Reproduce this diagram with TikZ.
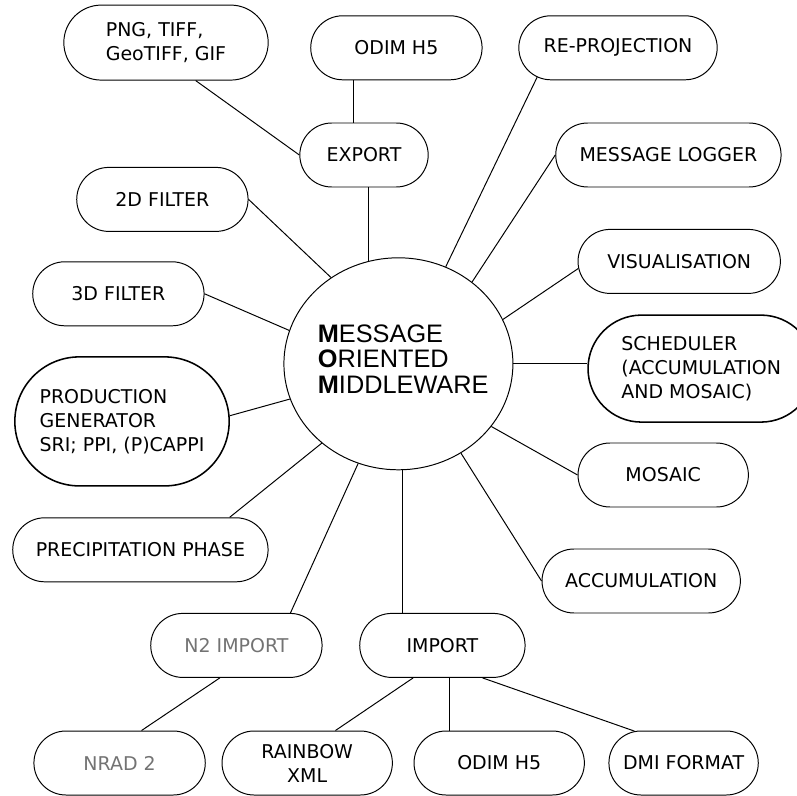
\documentclass[tikz,border=0pt]{standalone}
\usepackage{fontspec}
\setmainfont{DejaVu Sans}
\newfontfamily\momfont{Liberation Sans}
\usepackage{tikz}
\usetikzlibrary{positioning, shapes}

\begin{document}
\begin{tikzpicture}[
        box/.style={rounded rectangle, draw, line width=0.7pt, inner xsep=4pt, minimum width=4.565cm, minimum height=1.6cm, font=\fontsize{13.5}{17}\selectfont},
        thickbox/.style={box, line width=1.1pt},
        faded/.style={box, text=black!55},
        link/.style={line width=0.7pt}
    ]
            \useasboundingbox (0, 0) rectangle (19.925, 19.875);

            \node[ellipse, draw, line width=0.7pt, minimum width=5.725cm, minimum height=5.3cm, label={[align=left, xshift=0.12cm, yshift=0.12cm, font=\momfont\fontsize{18}{18.2}\selectfont]center:{\textbf{M}ESSAGE\\\textbf{O}RIENTED\\\textbf{M}IDDLEWARE}}] (mom) at (9.96, 10.78) {};

            \node[box, align=left, minimum width=5.39cm, minimum height=1.875cm] (png) at (4.15, 18.81) {PNG, TIFF,\\GeoTIFF, GIF};
            \node[box] (odimtop) at (9.91, 18.68) {ODIM H5};
            \node[box, minimum width=3.49cm] (export) at (9.1, 16.0) {EXPORT};
            \node[box, minimum width=5.24cm] (reproj) at (15.45, 18.68) {RE-PROJECTION};
            \node[box, minimum width=5.915cm] (msglog) at (16.71, 16.0) {MESSAGE LOGGER};
            \node[box] (filtertwo) at (4.06, 14.89) {2D FILTER};
            \node[box, minimum width=5.34cm] (vis) at (16.98, 13.34) {VISUALISATION};
            \node[box] (filterthree) at (2.96, 12.53) {3D FILTER};
            \node[thickbox, align=left, minimum width=5.64cm, minimum height=3.225cm] (prod) at (3.05, 9.34) {PRODUCTION\\GENERATOR\\SRI; PPI, (P)CAPPI};
            \node[thickbox, align=left, minimum width=5.94cm, minimum height=2.675cm] (sched) at (17.53, 10.66) {SCHEDULER\\(ACCUMULATION\\AND MOSAIC)};
            \node[box, minimum width=4.54cm] (mosaic) at (16.58, 8.0) {MOSAIC};
            \node[box, minimum width=6.665cm] (precip) at (3.51, 6.13) {PRECIPITATION PHASE};
            \node[box, minimum width=5.24cm] (accum) at (16.03, 5.35) {ACCUMULATION};
            \node[faded] (ntwoimport) at (5.91, 3.74) {N2 IMPORT};
            \node[box, minimum width=4.415cm] (import) at (11.06, 3.74) {IMPORT};
            \node[faded] (nrad) at (2.99, 0.8) {NRAD 2};
            \node[box, align=center, minimum width=4.54cm] (rainbow) at (7.68, 0.8) {RAINBOW\\XML};
            \node[box, minimum width=4.54cm] (odimbot) at (12.48, 0.8) {ODIM H5};
            \node[box, minimum width=4.015cm] (dmi) at (17.09, 0.8) {DMI FORMAT};

            \draw[link] (png.-52) -- (export.west);
            \draw[link] (odimtop.-143) -- (odimtop.-143 |- export.north);
            \draw[link] (mom.106) -- (mom.106 |- export.south);
            \draw[link] (reproj.200) -- (mom.64);
            \draw[link] (msglog.west) -- (mom.48);
            \draw[link] (filtertwo.east) -- (mom.128);
            \draw[link] (vis.184) -- (mom.23);
            \draw[link] (filterthree.east) -- (mom.163);
            \draw[link] (mom.east) -- (mom.east -| sched.west);
            \draw[link] (prod.3) -- (mom.198);
            \draw[link] (mosaic.west) -- (mom.-34);
            \draw[link] (precip.20) -- (mom.226);
            \draw[link] (accum.west) -- (mom.-55);
            \draw[link] (ntwoimport.31) -- (mom.248);
            \draw[link] (mom.-88) -- (mom.-88 |- import.north);
            \draw[link] (ntwoimport.-117) -- (nrad.56);
            \draw[link] (import.-132) -- (rainbow.49);
            \draw[link] (import.-77) -- (import.-77 |- odimbot.north);
            \draw[link] (import.-39) -- (dmi.147);
        \end{tikzpicture}
\end{document}
